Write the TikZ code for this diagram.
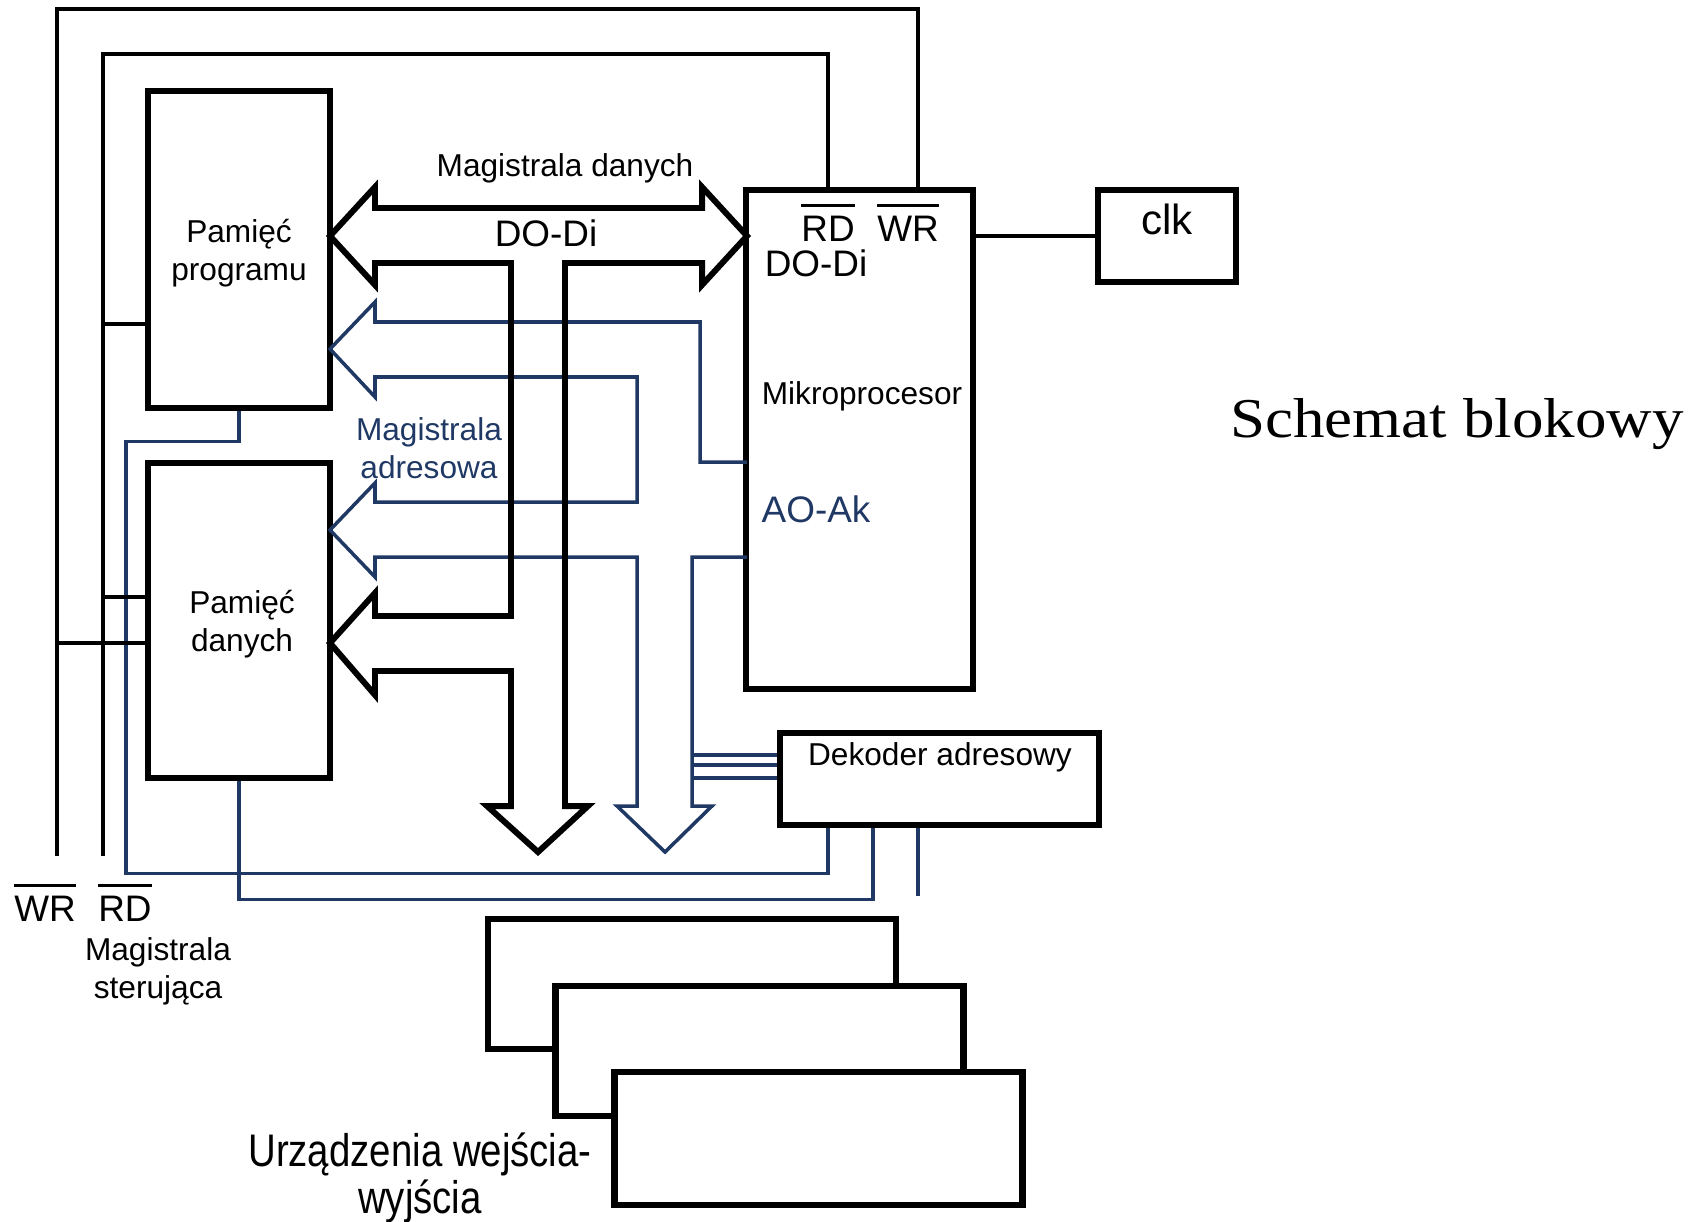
\documentclass[tikz,border=0pt]{standalone}
\usepackage{fontspec}
\setmainfont{Liberation Sans}
\newfontfamily\titlefont[FakeStretch=1.12]{Liberation Serif}
\newfontfamily\narrowfont[FakeStretch=0.84]{Liberation Sans}
\usetikzlibrary{calc}
\definecolor{addrblue}{RGB}{31,56,100}
% overline used for the active-low control signals
\newcommand{\ovbar}[1]{\setbox0=\hbox{#1}\rlap{\rule[\dimexpr\ht0+2.5pt\relax]{\wd0}{0.8pt}}\box0}

\begin{document}
\begin{tikzpicture}[
  block/.style={rectangle, draw, line width=1.9pt, inner sep=0pt, align=center, font=\fontsize{9}{10.8}\selectfont},
  iobox/.style={rectangle, draw, fill=white, line width=1.9pt, minimum width=4.08cm, minimum height=1.3cm},
  ctrl/.style={line width=1.05pt},
  addr/.style={draw=addrblue, line width=1pt},
  bus/.style={line width=1.7pt, line join=miter},
  small/.style={inner sep=0pt, align=center, font=\fontsize{9}{10.8}\selectfont},
  pin/.style={inner sep=0pt, font=\fontsize{10.5}{12}\selectfont}
]
\useasboundingbox (0,0) rectangle (16.95,-12.21);

% blocks
\node[block, minimum width=1.82cm, minimum height=3.17cm] (progmem) at (2.39,-2.495) {};
\node[block, minimum width=1.82cm, minimum height=3.15cm] (datamem) at (2.39,-6.205) {};
\node[block, minimum width=2.27cm, minimum height=4.99cm] (cpu) at (8.595,-4.395) {};
\node[block, minimum width=1.38cm, minimum height=0.92cm] (clk) at (11.67,-2.36) {};
\node[block, minimum width=3.19cm, minimum height=0.92cm] (dek) at (9.395,-7.79) {};
\node[iobox] (io1) at (6.92,-9.84) {};
\node[iobox] (io2) at (7.595,-10.51) {};
\node[iobox, minimum height=1.33cm] (io3) at (8.185,-11.385) {};

% texts
\node[small] (progtxt) at (2.39,-2.53) {Pamięć\\programu};
\node[small] (datatxt) at (2.42,-6.24) {Pamięć\\danych};
\node[small] (cputxt) at (8.62,-3.96) {Mikroprocesor};
\node[pin] (cpudata) at (8.16,-2.63) {DO-Di};
\node[pin, anchor=base] (cpurd) at (8.28,-2.41) {\ovbar{RD}};
\node[pin, anchor=base] (cpuwr) at (9.08,-2.41) {\ovbar{WR}};
\node[pin, text=addrblue] (cpuaddr) at (8.16,-5.09) {AO-Ak};
\node[inner sep=0pt, font=\fontsize{12}{14}\selectfont] (clktxt) at (11.67,-2.19) {clk};
\node[small] (dektxt) at (9.40,-7.57) {Dekoder adresowy};
\node[small] (dbustxt) at (5.65,-1.68) {Magistrala danych};
\node[pin] (dbuspins) at (5.46,-2.33) {DO-Di};
\node[small, text=addrblue] (abustxt) at (4.29,-4.48) {Magistrala\\adresowa};
\node[pin, anchor=base] (wrtxt) at (0.45,-9.21) {\ovbar{WR}};
\node[pin, anchor=base] (rdtxt) at (1.25,-9.21) {\ovbar{RD}};
\node[small] (cbustxt) at (1.58,-9.71) {Magistrala\\sterująca};
\node[inner sep=0pt, align=center, font=\narrowfont\fontsize{13}{13.2}\selectfont] (iotxt) at (4.20,-11.78) {Urządzenia wejścia-\\wyjścia};
\node[inner sep=0pt, font=\titlefont\fontsize{16}{19}\selectfont] (title) at (14.57,-4.24) {Schemat blokowy};

% address bus
\draw[addr] (7.47,-4.62) -- (7.00,-4.62) -- (7.00,-3.22) -- (3.75,-3.22) -- (3.75,-3.02) -- (3.30,-3.49)
  -- (3.75,-3.97) -- (3.75,-3.77) -- (6.37,-3.77) -- (6.37,-5.02) -- (3.75,-5.02) -- (3.75,-4.83)
  -- (3.30,-5.30) -- (3.75,-5.77) -- (3.75,-5.57) -- (6.37,-5.57) -- (6.37,-8.06) -- (6.17,-8.06)
  -- (6.65,-8.52) -- (7.12,-8.06) -- (6.92,-8.06) -- (6.92,-5.57) -- (7.47,-5.57);
\foreach \yy in {-7.55,-7.65,-7.78} {
  \coordinate (tap) at (6.92,\yy);
  \draw[addr] (tap) -- (tap -| dek.west);
}
\draw[addr] (progmem.south) -- ++(0,-0.30) -- ++(-1.13,0) -- ++(0,-4.32) -| ([xshift=-11.15mm]dek.south);
\draw[addr] (datamem.south) -- ++(0,-1.18) -| ([xshift=-6.65mm]dek.south);
\draw[addr] ([xshift=-2.15mm]dek.south) -- ++(0,-0.68);

% data bus
\draw[bus] (3.30,-2.36) -- (3.75,-1.87) -- (3.75,-2.08) -- (7.02,-2.08) -- (7.02,-1.87) -- (7.47,-2.36)
  -- (7.02,-2.85) -- (7.02,-2.63) -- (5.65,-2.63) -- (5.65,-8.06) -- (5.88,-8.06) -- (5.38,-8.52)
  -- (4.87,-8.06) -- (5.11,-8.06) -- (5.11,-6.71) -- (3.75,-6.71) -- (3.75,-6.95) -- (3.30,-6.43)
  -- (3.75,-5.93) -- (3.75,-6.16) -- (5.11,-6.16) -- (5.11,-2.63) -- (3.75,-2.63) -- (3.75,-2.85) -- cycle;

% control bus
\coordinate (wrend) at (0.57,-8.56);
\coordinate (rdend) at (1.03,-8.56);
\coordinate (rdprog) at (1.03,-3.24);
\coordinate (rddata) at (1.03,-5.97);
\coordinate (wrdata) at (0.57,-6.43);
\draw[ctrl] ([xshift=5.85mm]cpu.north) |- (0.57,-0.09) -- (wrend);
\draw[ctrl] ([xshift=-3.15mm]cpu.north) |- (1.03,-0.54) -- (rdend);
\draw[ctrl] (rdprog) -- (rdprog -| progmem.west);
\draw[ctrl] (rddata) -- (rddata -| datamem.west);
\draw[ctrl] (wrdata) -- (wrdata -| datamem.west);
\draw[ctrl] (clk.west) -- (clk.west -| cpu.east);
\end{tikzpicture}
\end{document}
